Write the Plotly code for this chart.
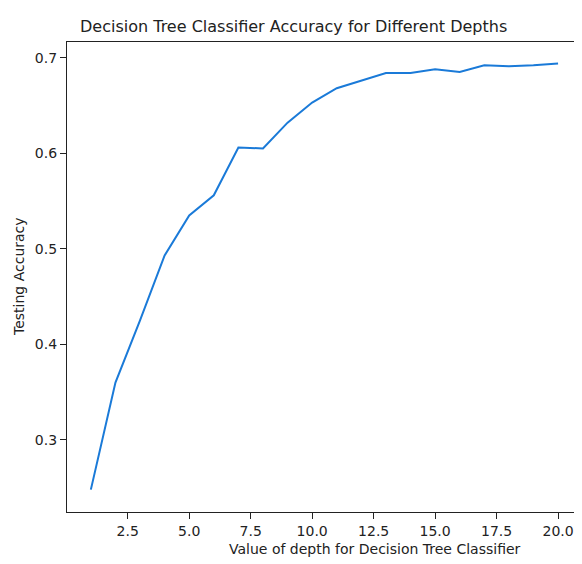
import plotly.graph_objects as go

depths = list(range(1, 21))
accuracy = [0.248, 0.360, 0.425, 0.493, 0.535, 0.556, 0.606, 0.605, 0.632, 0.653,
            0.668, 0.676, 0.684, 0.684, 0.688, 0.685, 0.692, 0.691, 0.692, 0.694]
x_ticks = [2.5, 5.0, 7.5, 10.0, 12.5, 15.0, 17.5, 20.0]
y_ticks = [0.3, 0.4, 0.5, 0.6, 0.7]

font = "DejaVu Sans"
# page body has an 8px default margin, so the figure is offset by 8px
fig = go.Figure()
fig.add_trace(go.Scatter(x=depths, y=accuracy, mode="lines",
                         line=dict(color="#1a7ad8", width=2), showlegend=False))

W = 566
plot_w = W - 59
px_per_unit = 24.59
x_min = 0.03
fig.update_layout(
    width=W, height=550,
    margin=dict(l=59, r=0, t=34, b=46),
    paper_bgcolor="white", plot_bgcolor="white",
    font=dict(family=font, size=14, color="#222222"),
    annotations=[
        dict(text="Decision Tree Classifier Accuracy for Different Depths",
             xref="paper", yref="paper", x=(293 - 67) / plot_w, y=1, yshift=16,
             xanchor="center", yanchor="middle", showarrow=False,
             font=dict(family=font, size=16, color="#222222")),
        dict(text="Value of depth for Decision Tree Classifier",
             xref="paper", yref="paper", x=(375 - 67) / plot_w, y=0, yshift=-37,
             xanchor="center", yanchor="middle", showarrow=False,
             font=dict(family=font, size=14, color="#222222")),
        dict(text="Testing Accuracy", textangle=-90,
             xref="paper", yref="paper", x=0, xshift=-48, y=0.5,
             xanchor="center", yanchor="middle", showarrow=False,
             font=dict(family=font, size=14, color="#222222")),
    ],
)
fig.update_xaxes(range=[x_min, x_min + plot_w / px_per_unit], tickvals=x_ticks,
                 ticktext=[f"{v:.1f}" for v in x_ticks], ticklabeloverflow="allow",
                 showgrid=False, zeroline=False, showline=True, linecolor="#222222",
                 linewidth=1.2, mirror=True, ticks="outside", ticklen=6,
                 tickcolor="#222222")
fig.update_yaxes(range=[0.2246, 0.7164], tickvals=y_ticks,
                 ticktext=[f"{v:.1f}" for v in y_ticks],
                 showgrid=False, zeroline=False, showline=True, linecolor="#222222",
                 linewidth=1.2, mirror=False, ticks="outside", ticklen=6,
                 tickcolor="#222222")

fig.write_html("out.html")
